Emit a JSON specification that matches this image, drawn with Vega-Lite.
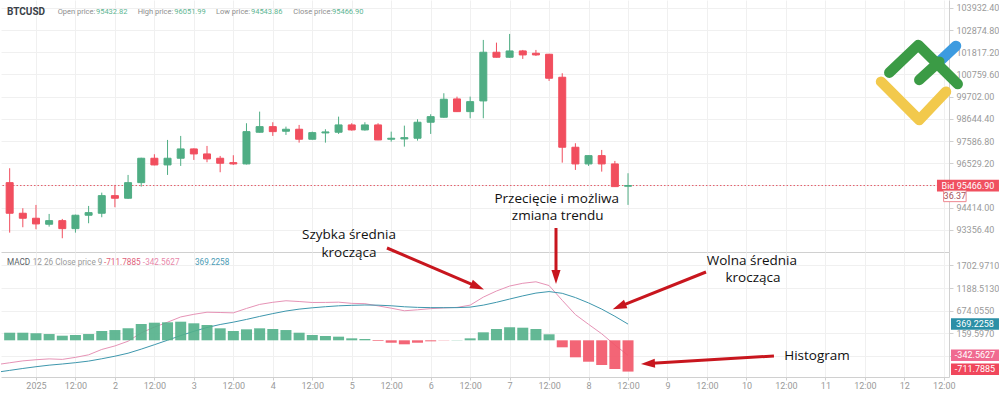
{
  "$schema": "https://vega.github.io/schema/vega-lite/v6.json",
  "padding": 0,
  "spacing": 0,
  "bounds": "flush",
  "background": "white",
  "config": {
    "view": {"stroke": null},
    "font": "Roboto",
    "scale": {"continuousPadding": 0},
    "axis": {"title": null, "gridColor": "#f0f0f0", "domainColor": "#d0d0d0", "tickColor": "#d0d0d0", "labelColor": "#9a9a9a", "labelFont": "Roboto", "labelFontSize": 9}
  },
  "resolve": {"scale": {"x": "independent", "y": "independent"}},
  "datasets": {
    "candles": [
      {"t":"2024-12-31T16:00:00Z","o":95604.6,"h":96290.9,"l":93221.6,"c":94146.2},
      {"t":"2024-12-31T20:00:00Z","o":94146.2,"h":94384.5,"l":93479.0,"c":93907.9},
      {"t":"2025-01-01T00:00:00Z","o":93907.9,"h":94541.8,"l":93383.7,"c":93636.3},
      {"t":"2025-01-01T04:00:00Z","o":93622.0,"h":94112.9,"l":93507.6,"c":93793.5},
      {"t":"2025-01-01T08:00:00Z","o":93793.5,"h":93874.6,"l":92954.7,"c":93412.3},
      {"t":"2025-01-01T12:00:00Z","o":93412.3,"h":94080.0,"l":93221.6,"c":94050.9},
      {"t":"2025-01-01T16:00:00Z","o":94050.9,"h":94494.1,"l":93669.6,"c":94174.8},
      {"t":"2025-01-01T20:00:00Z","o":94146.2,"h":95128.0,"l":93955.6,"c":94985.0},
      {"t":"2025-01-02T00:00:00Z","o":94985.0,"h":95495.0,"l":94432.2,"c":94861.2},
      {"t":"2025-01-02T04:00:00Z","o":94861.2,"h":95971.6,"l":94830.0,"c":95604.6},
      {"t":"2025-01-02T08:00:00Z","o":95604.6,"h":96790.0,"l":95414.0,"c":96767.5},
      {"t":"2025-01-02T12:00:00Z","o":96767.5,"h":96958.2,"l":96430.0,"c":96448.2},
      {"t":"2025-01-02T16:00:00Z","o":96448.2,"h":97639.7,"l":95971.6,"c":96767.5},
      {"t":"2025-01-02T20:00:00Z","o":96767.5,"h":97830.3,"l":96400.5,"c":97210.8},
      {"t":"2025-01-03T00:00:00Z","o":97210.8,"h":97234.6,"l":96686.5,"c":96972.5},
      {"t":"2025-01-03T04:00:00Z","o":96972.5,"h":97353.7,"l":96576.9,"c":96734.2},
      {"t":"2025-01-03T08:00:00Z","o":96767.5,"h":96877.1,"l":96100.3,"c":96529.2},
      {"t":"2025-01-03T12:00:00Z","o":96557.8,"h":96910.5,"l":96448.2,"c":96495.9},
      {"t":"2025-01-03T16:00:00Z","o":96495.9,"h":98435.6,"l":96470.0,"c":98035.3},
      {"t":"2025-01-03T20:00:00Z","o":98006.7,"h":98988.5,"l":97990.0,"c":98273.6},
      {"t":"2025-01-04T00:00:00Z","o":98273.6,"h":98483.3,"l":97830.3,"c":98035.3},
      {"t":"2025-01-04T04:00:00Z","o":98054.3,"h":98273.6,"l":97878.0,"c":98149.7},
      {"t":"2025-01-04T08:00:00Z","o":98149.7,"h":98354.6,"l":97511.0,"c":97673.1},
      {"t":"2025-01-04T12:00:00Z","o":97673.1,"h":98035.3,"l":97660.0,"c":97987.6},
      {"t":"2025-01-04T16:00:00Z","o":97973.3,"h":98149.7,"l":97511.0,"c":98021.0},
      {"t":"2025-01-04T20:00:00Z","o":98006.7,"h":98750.1,"l":97925.7,"c":98354.6},
      {"t":"2025-01-05T00:00:00Z","o":98354.6,"h":98435.6,"l":98082.9,"c":98116.3},
      {"t":"2025-01-05T04:00:00Z","o":98116.3,"h":98483.3,"l":98082.9,"c":98354.6},
      {"t":"2025-01-05T08:00:00Z","o":98354.6,"h":98435.6,"l":97630.0,"c":97639.7},
      {"t":"2025-01-05T12:00:00Z","o":97673.1,"h":98035.3,"l":97558.7,"c":97720.7},
      {"t":"2025-01-05T16:00:00Z","o":97687.4,"h":98321.2,"l":97320.4,"c":97749.3},
      {"t":"2025-01-05T20:00:00Z","o":97720.7,"h":98626.3,"l":97606.3,"c":98483.3},
      {"t":"2025-01-06T00:00:00Z","o":98483.3,"h":98864.6,"l":97925.7,"c":98750.1},
      {"t":"2025-01-06T04:00:00Z","o":98721.6,"h":99865.4,"l":98700.0,"c":99579.5},
      {"t":"2025-01-06T08:00:00Z","o":99593.8,"h":99703.4,"l":98970.0,"c":98988.5},
      {"t":"2025-01-06T12:00:00Z","o":98988.5,"h":99703.4,"l":98673.9,"c":99465.1},
      {"t":"2025-01-06T16:00:00Z","o":99498.4,"h":102405.7,"l":98673.9,"c":101819.5},
      {"t":"2025-01-06T20:00:00Z","o":101819.5,"h":102277.0,"l":101570.0,"c":101581.2},
      {"t":"2025-01-07T00:00:00Z","o":101581.2,"h":102691.7,"l":101560.0,"c":101881.4},
      {"t":"2025-01-07T04:00:00Z","o":101881.4,"h":101929.1,"l":101500.2,"c":101690.8},
      {"t":"2025-01-07T08:00:00Z","o":101771.8,"h":101929.1,"l":101643.1,"c":101690.8},
      {"t":"2025-01-07T12:00:00Z","o":101724.2,"h":101740.0,"l":100451.6,"c":100580.3},
      {"t":"2025-01-07T16:00:00Z","o":100628.0,"h":100818.6,"l":96557.8,"c":97291.8},
      {"t":"2025-01-07T20:00:00Z","o":97291.8,"h":97482.4,"l":96209.9,"c":96495.9},
      {"t":"2025-01-08T00:00:00Z","o":96495.9,"h":96900.0,"l":96400.5,"c":96891.4},
      {"t":"2025-01-08T04:00:00Z","o":96891.4,"h":97163.1,"l":96128.9,"c":96495.9},
      {"t":"2025-01-08T08:00:00Z","o":96495.9,"h":96638.8,"l":95400.0,"c":95414.0},
      {"t":"2025-01-08T12:00:00Z","o":95432.82,"h":96051.99,"l":94543.86,"c":95466.90}
    ],
    "macd": [
      {"t":"2024-12-31T12:00:00Z","m":-554,"s":-727.6,"h":null},
      {"t":"2024-12-31T16:00:00Z","m":-511.3,"s":-684.3,"h":173},
      {"t":"2024-12-31T20:00:00Z","m":-468.1,"s":-641.1,"h":173},
      {"t":"2025-01-01T00:00:00Z","m":-442.3,"s":-601.3,"h":159},
      {"t":"2025-01-01T04:00:00Z","m":-422.6,"s":-565.6,"h":143},
      {"t":"2025-01-01T08:00:00Z","m":-434.3,"s":-539.3,"h":105},
      {"t":"2025-01-01T12:00:00Z","m":-388.1,"s":-509.1,"h":121},
      {"t":"2025-01-01T16:00:00Z","m":-330.3,"s":-473.3,"h":143},
      {"t":"2025-01-01T20:00:00Z","m":-208.3,"s":-420.3,"h":212},
      {"t":"2025-01-02T00:00:00Z","m":-127.8,"s":-361.8,"h":234},
      {"t":"2025-01-02T04:00:00Z","m":-20.6,"s":-293.6,"h":273},
      {"t":"2025-01-02T08:00:00Z","m":170.2,"s":-200.8,"h":371},
      {"t":"2025-01-02T12:00:00Z","m":300.4,"s":-100.6,"h":401},
      {"t":"2025-01-02T16:00:00Z","m":411.9,"s":1.9,"h":410},
      {"t":"2025-01-02T20:00:00Z","m":531.9,"s":107.9,"h":424},
      {"t":"2025-01-03T00:00:00Z","m":591.7,"s":204.7,"h":387},
      {"t":"2025-01-03T04:00:00Z","m":639.7,"s":291.7,"h":348},
      {"t":"2025-01-03T08:00:00Z","m":632.9,"s":359.9,"h":273},
      {"t":"2025-01-03T12:00:00Z","m":624.9,"s":412.9,"h":212},
      {"t":"2025-01-03T16:00:00Z","m":725.4,"s":475.4,"h":250},
      {"t":"2025-01-03T20:00:00Z","m":816.7,"s":543.7,"h":273},
      {"t":"2025-01-04T00:00:00Z","m":864.9,"s":607.9,"h":257},
      {"t":"2025-01-04T04:00:00Z","m":900.4,"s":666.4,"h":234},
      {"t":"2025-01-04T08:00:00Z","m":882.7,"s":709.7,"h":173},
      {"t":"2025-01-04T12:00:00Z","m":860.9,"s":739.9,"h":121},
      {"t":"2025-01-04T16:00:00Z","m":862.4,"s":764.4,"h":98},
      {"t":"2025-01-04T20:00:00Z","m":868.2,"s":785.2,"h":83},
      {"t":"2025-01-05T00:00:00Z","m":841.4,"s":796.4,"h":45},
      {"t":"2025-01-05T04:00:00Z","m":833.9,"s":803.9,"h":30},
      {"t":"2025-01-05T08:00:00Z","m":783.9,"s":799.9,"h":-16},
      {"t":"2025-01-05T12:00:00Z","m":731.2,"s":786.2,"h":-55},
      {"t":"2025-01-05T16:00:00Z","m":672.4,"s":763.4,"h":-91},
      {"t":"2025-01-05T20:00:00Z","m":694.7,"s":749.7,"h":-55},
      {"t":"2025-01-06T00:00:00Z","m":720.9,"s":743.9,"h":-23},
      {"t":"2025-01-06T04:00:00Z","m":737.7,"s":742.7,"h":-5},
      {"t":"2025-01-06T08:00:00Z","m":748.9,"s":743.9,"h":5},
      {"t":"2025-01-06T12:00:00Z","m":800.2,"s":755.2,"h":45},
      {"t":"2025-01-06T16:00:00Z","m":982.7,"s":800.7,"h":182},
      {"t":"2025-01-06T20:00:00Z","m":1121.9,"s":864.9,"h":257},
      {"t":"2025-01-07T00:00:00Z","m":1234.9,"s":938.9,"h":296},
      {"t":"2025-01-07T04:00:00Z","m":1297.7,"s":1010.7,"h":287},
      {"t":"2025-01-07T08:00:00Z","m":1331.9,"s":1074.9,"h":257},
      {"t":"2025-01-07T12:00:00Z","m":1246.2,"s":1109.2,"h":137},
      {"t":"2025-01-07T16:00:00Z","m":910.4,"s":1069.4,"h":-159},
      {"t":"2025-01-07T20:00:00Z","m":585.7,"s":972.7,"h":-387},
      {"t":"2025-01-08T00:00:00Z","m":363.9,"s":850.9,"h":-487},
      {"t":"2025-01-08T04:00:00Z","m":148.4,"s":710.4,"h":-562},
      {"t":"2025-01-08T08:00:00Z","m":-105.8,"s":547.2,"h":-653},
      {"t":"2025-01-08T12:00:00Z","m":-342.5627,"s":369.2258,"h":-711.7885}
    ],
    "hdr": [
      {"t":"2024-12-31T15:11:00Z","text":"BTCUSD","k":"sym"},
      {"t":"2025-01-01T06:36:00Z","text":"Open price:","k":"lab"},
      {"t":"2025-01-01T18:14:00Z","text":"95432.82","k":"val"},
      {"t":"2025-01-02T06:55:00Z","text":"High price:","k":"lab"},
      {"t":"2025-01-02T18:03:00Z","text":"96051.99","k":"val"},
      {"t":"2025-01-03T06:44:00Z","text":"Low price:","k":"lab"},
      {"t":"2025-01-03T17:22:00Z","text":"94543.86","k":"val"},
      {"t":"2025-01-04T06:14:00Z","text":"Close price:","k":"lab"},
      {"t":"2025-01-04T18:00:00Z","text":"95466.90","k":"val"}
    ],
    "mhdr": [
      {"t":"2024-12-31T15:11:00Z","text":"MACD","k":"name"},
      {"t":"2024-12-31T23:00:00Z","text":"12 26 Close price 9","k":"lab"},
      {"t":"2025-01-01T20:40:00Z","text":"-711.7885","k":"hist"},
      {"t":"2025-01-02T08:30:00Z","text":"-342.5627","k":"macd"},
      {"t":"2025-01-03T00:20:00Z","text":"369.2258","k":"sig"}
    ],
    "notesP": [
      {"t":"2025-01-04T23:10:00Z","p":92898,"text":"Szybka średnia"},
      {"t":"2025-01-07T14:20:00Z","p":94638,"text":"Przecięcie i możliwa"},
      {"t":"2025-01-07T14:37:00Z","p":93812,"text":"zmiana trendu"}
    ],
    "notesM": [
      {"t":"2025-01-04T23:10:00Z","v":1885,"text":"krocząca"},
      {"t":"2025-01-10T01:38:00Z","v":1721,"text":"Wolna średnia"},
      {"t":"2025-01-10T01:59:00Z","v":1316,"text":"krocząca"},
      {"t":"2025-01-10T21:27:00Z","v":-448,"text":"Histogram"}
    ],
    "arrows": [
      {"id":"a1","t1":"2025-01-05T10:43:00Z","v1":2101,"t2":"2025-01-06T13:04:00Z","v2":1256},
      {"id":"a2","t1":"2025-01-07T14:06:00Z","v1":2556,"t2":"2025-01-07T14:06:00Z","v2":1536},
      {"id":"a3","t1":"2025-01-09T11:42:00Z","v1":1555,"t2":"2025-01-08T10:30:00Z","v2":801},
      {"id":"a4","t1":"2025-01-10T08:22:00Z","v1":-357,"t2":"2025-01-08T19:20:00Z","v2":-524}
    ],
    "logo": [
      {"seg":"blue","t":"2025-01-12T10:38:00Z","p":101371.5},
      {"seg":"blue","t":"2025-01-12T15:43:00Z","p":102119.7},
      {"seg":"yellow","t":"2025-01-11T16:55:00Z","p":100418.3},
      {"seg":"yellow","t":"2025-01-12T04:33:00Z","p":98592.9},
      {"seg":"yellow","t":"2025-01-12T12:40:00Z","p":99941.7},
      {"seg":"green","t":"2025-01-11T19:26:00Z","p":100847.2},
      {"seg":"green","t":"2025-01-12T04:15:00Z","p":102167.4},
      {"seg":"green","t":"2025-01-12T16:14:00Z","p":100308.7},
      {"seg":"green2","t":"2025-01-12T04:33:00Z","p":100499.3},
      {"seg":"green2","t":"2025-01-12T10:38:00Z","p":101371.5}
    ],
    "tagsP": [
      {"t":"2025-01-12T19:21:00Z","p":95466.9,"text":"Bid 95466.90","kind":"bid"},
      {"t":"2025-01-12T15:22:00Z","p":94961,"text":"36.37","kind":"spread"}
    ],
    "tagsM": [
      {"t":"2025-01-12T21:29:00Z","v":369.2258,"text":"369.2258","kind":"sig"},
      {"t":"2025-01-12T21:29:00Z","v":-342.5627,"text":"-342.5627","kind":"macd"},
      {"t":"2025-01-12T21:29:00Z","v":-660,"text":"-711.7885","kind":"hist"}
    ]
  },
  "vconcat": [
    {
      "width": 948,
      "height": 252,
      "layer": [
        {
          "data": {"name": "candles"},
          "mark": {"type": "rule", "strokeWidth": 1},
          "encoding": {
            "x": {"field": "t", "type": "temporal", "scale": {"type": "utc", "domain": [1735651320000, 1736688900000], "padding": 0},
              "axis": {"labels": false, "ticks": false, "domain": true, "grid": true, "title": null}},
            "y": {"field": "l", "type": "quantitative", "scale": {"domain": [92298.8, 104309], "nice": false, "zero": false},
              "axis": {"orient": "right", "values": [93356.4, 94414.0, 95471.6, 96529.2, 97586.8, 98644.4, 99702.0, 100759.6, 101817.2, 102874.8, 103932.4], "tickCount": 50, "labelExpr": "datum.value > 95000 && datum.value < 96000 ? '' : format(datum.value, '.2f')", "tickSize": 4, "labelPadding": 3, "grid": true, "title": null, "labelOverlap": false}},
            "y2": {"field": "h"},
            "color": {"condition": {"test": "datum.c < datum.o", "value": "#f14e5e"}, "value": "#4fad84"}
          }
        },
        {
          "data": {"values": [{}]},
          "mark": {"type": "rule", "strokeDash": [1.5, 2], "color": "#e4606d", "strokeWidth": 1},
          "encoding": {"y": {"datum": 95466.9, "type": "quantitative", "scale": {"domain": [92298.8, 104309], "nice": false, "zero": false}}}
        },
        {
          "data": {"name": "candles"},
          "mark": {"type": "bar", "size": 7, "strokeWidth": 1},
          "encoding": {
            "x": {"field": "t", "type": "temporal", "scale": {"type": "utc", "domain": [1735651320000, 1736688900000], "padding": 0}},
            "y": {"field": "o", "type": "quantitative", "scale": {"domain": [92298.8, 104309], "nice": false, "zero": false}},
            "y2": {"field": "c"},
            "color": {"condition": {"test": "datum.c < datum.o", "value": "#f14e5e"}, "value": "#4fad84"},
            "stroke": {"condition": {"test": "datum.c < datum.o", "value": "#f14e5e"}, "value": "#4fad84"}
          }
        },
        {
          "data": {"name": "hdr"},
          "transform": [{"filter": "datum.k == 'sym'"}],
          "mark": {"type": "text", "align": "left", "baseline": "middle", "font": "Roboto", "fontSize": 10, "fontWeight": "bold", "color": "#3b4148"},
          "encoding": {
            "x": {"field": "t", "type": "temporal", "scale": {"type": "utc", "domain": [1735651320000, 1736688900000], "padding": 0}},
            "y": {"datum": 103726, "type": "quantitative", "scale": {"domain": [92298.8, 104309], "nice": false, "zero": false}},
            "text": {"field": "text"}
          }
        },
        {
          "data": {"name": "hdr"},
          "transform": [{"filter": "datum.k != 'sym'"}],
          "mark": {"type": "text", "align": "left", "baseline": "middle", "font": "Roboto", "fontSize": 7.5},
          "encoding": {
            "x": {"field": "t", "type": "temporal", "scale": {"type": "utc", "domain": [1735651320000, 1736688900000], "padding": 0}},
            "y": {"datum": 103726, "type": "quantitative", "scale": {"domain": [92298.8, 104309], "nice": false, "zero": false}},
            "text": {"field": "text"},
            "color": {"condition": {"test": "datum.k == 'val'", "value": "#5db592"}, "value": "#8d8d8d"}
          }
        },
        {
          "data": {"name": "notesP"},
          "mark": {"type": "text", "align": "center", "baseline": "alphabetic", "font": "Open Sans", "fontSize": 13.5, "color": "#111111"},
          "encoding": {
            "x": {"field": "t", "type": "temporal", "scale": {"type": "utc", "domain": [1735651320000, 1736688900000], "padding": 0}},
            "y": {"field": "p", "type": "quantitative", "scale": {"domain": [92298.8, 104309], "nice": false, "zero": false}},
            "text": {"field": "text"}
          }
        },
        {
          "data": {"name": "logo"},
          "mark": {"type": "line", "strokeWidth": 10.5, "strokeCap": "round", "strokeJoin": "round"},
          "encoding": {
            "x": {"field": "t", "type": "temporal", "scale": {"type": "utc", "domain": [1735651320000, 1736688900000], "padding": 0}},
            "y": {"field": "p", "type": "quantitative", "scale": {"domain": [92298.8, 104309], "nice": false, "zero": false}},
            "color": {"field": "seg", "type": "nominal", "scale": {"domain": ["blue", "yellow", "green", "green2"], "range": ["#3d9be0", "#f2c94c", "#3b9b45", "#3b9b45"]}, "legend": null}
          }
        },
        {
          "data": {"name": "tagsP"},
          "transform": [{"filter": "datum.kind == 'bid'"}],
          "mark": {"type": "point", "shape": "M-1,-0.19L1,-0.19L1,0.19L-1,0.19Z", "size": 3844, "filled": true, "color": "#f0505f", "opacity": 1, "strokeWidth": 0},
          "encoding": {
            "x": {"field": "t", "type": "temporal", "scale": {"type": "utc", "domain": [1735651320000, 1736688900000], "padding": 0}},
            "y": {"field": "p", "type": "quantitative", "scale": {"domain": [92298.8, 104309], "nice": false, "zero": false}}
          }
        },
        {
          "data": {"name": "tagsP"},
          "transform": [{"filter": "datum.kind == 'spread'"}],
          "mark": {"type": "point", "shape": "M-1,-0.49L1,-0.49L1,0.49L-1,0.49Z", "size": 506, "filled": true, "fill": "#ffffff", "stroke": "#ee8890", "strokeWidth": 1, "opacity": 1},
          "encoding": {
            "x": {"field": "t", "type": "temporal", "scale": {"type": "utc", "domain": [1735651320000, 1736688900000], "padding": 0}},
            "y": {"field": "p", "type": "quantitative", "scale": {"domain": [92298.8, 104309], "nice": false, "zero": false}}
          }
        },
        {
          "data": {"name": "tagsP"},
          "mark": {"type": "text", "align": "center", "baseline": "middle", "font": "Roboto", "fontSize": 9},
          "encoding": {
            "x": {"field": "t", "type": "temporal", "scale": {"type": "utc", "domain": [1735651320000, 1736688900000], "padding": 0}},
            "y": {"field": "p", "type": "quantitative", "scale": {"domain": [92298.8, 104309], "nice": false, "zero": false}},
            "text": {"field": "text"},
            "color": {"condition": {"test": "datum.kind == 'spread'", "value": "#a5525c"}, "value": "#ffffff"}
          }
        }
      ]
    },
    {
      "width": 948,
      "height": 125,
      "layer": [
        {
          "data": {"name": "macd"},
          "mark": {"type": "line", "color": "#e693b6", "strokeWidth": 1, "clip": true},
          "encoding": {
            "x": {"field": "t", "type": "temporal", "scale": {"type": "utc", "domain": [1735651320000, 1736688900000], "padding": 0},
              "axis": {"labelExpr": "utchours(datum.value) == 12 ? '12:00' : (utcdate(datum.value) == 1 && utcmonth(datum.value) == 0 ? '2025' : '' + utcdate(datum.value))", "labelFlush": false, "labelOverlap": false, "tickSize": 3, "labelPadding": 1, "grid": true, "title": null, "domain": true}},
            "y": {"field": "m", "type": "quantitative", "scale": {"domain": [-835, 2010], "nice": false, "zero": false},
              "axis": {"orient": "right", "values": [-354.861, 159.597, 674.055, 1188.513, 1702.971], "tickCount": 50, "labelExpr": "datum.value < 0 ? '' : format(datum.value, '.4f')", "tickSize": 4, "labelPadding": 3, "grid": true, "title": null, "labelOverlap": false}}
          }
        },
        {
          "data": {"name": "macd"},
          "mark": {"type": "line", "color": "#3e97ad", "strokeWidth": 1, "clip": true},
          "encoding": {
            "x": {"field": "t", "type": "temporal", "scale": {"type": "utc", "domain": [1735651320000, 1736688900000], "padding": 0}},
            "y": {"field": "s", "type": "quantitative", "scale": {"domain": [-835, 2010], "nice": false, "zero": false}}
          }
        },
        {
          "data": {"name": "macd"},
          "transform": [{"filter": "isValid(datum.h)"}],
          "mark": {"type": "bar", "size": 11, "opacity": 0.9},
          "encoding": {
            "x": {"field": "t", "type": "temporal", "scale": {"type": "utc", "domain": [1735651320000, 1736688900000], "padding": 0}},
            "y": {"field": "h", "type": "quantitative", "scale": {"domain": [-835, 2010], "nice": false, "zero": false}},
            "y2": {"datum": 0},
            "color": {"condition": {"test": "datum.h < 0", "value": "#f25467"}, "value": "#52b089"}
          }
        },
        {
          "data": {"name": "mhdr"},
          "mark": {"type": "text", "align": "left", "baseline": "middle", "font": "Roboto", "fontSize": 8.2},
          "encoding": {
            "x": {"field": "t", "type": "temporal", "scale": {"type": "utc", "domain": [1735651320000, 1736688900000], "padding": 0}},
            "y": {"datum": 1766, "type": "quantitative", "scale": {"domain": [-835, 2010], "nice": false, "zero": false}},
            "text": {"field": "text"},
            "color": {"condition": [
              {"test": "datum.k == 'name'", "value": "#5a5f66"},
              {"test": "datum.k == 'lab'", "value": "#9a9a9a"},
              {"test": "datum.k == 'hist'", "value": "#e0607a"},
              {"test": "datum.k == 'macd'", "value": "#e888aa"}
            ], "value": "#4a9bb5"}
          }
        },
        {
          "data": {"name": "notesM"},
          "mark": {"type": "text", "align": "center", "baseline": "alphabetic", "font": "Open Sans", "fontSize": 13.5, "color": "#111111"},
          "encoding": {
            "x": {"field": "t", "type": "temporal", "scale": {"type": "utc", "domain": [1735651320000, 1736688900000], "padding": 0}},
            "y": {"field": "v", "type": "quantitative", "scale": {"domain": [-835, 2010], "nice": false, "zero": false}},
            "text": {"field": "text"}
          }
        },
        {
          "data": {"name": "arrows"},
          "mark": {"type": "rule", "strokeWidth": 3, "color": "#c8161e"},
          "encoding": {
            "x": {"field": "t1", "type": "temporal", "scale": {"type": "utc", "domain": [1735651320000, 1736688900000], "padding": 0}},
            "x2": {"field": "t2"},
            "y": {"field": "v1", "type": "quantitative", "scale": {"domain": [-835, 2010], "nice": false, "zero": false}},
            "y2": {"field": "v2"}
          }
        },
        {
          "data": {"name": "arrows"},
          "mark": {"type": "point", "shape": "M0,-1.6L0.65,0.4L-0.65,0.4Z", "size": 196, "filled": true, "color": "#c8161e", "opacity": 1, "strokeWidth": 0},
          "encoding": {
            "x": {"field": "t2", "type": "temporal", "scale": {"type": "utc", "domain": [1735651320000, 1736688900000], "padding": 0}},
            "y": {"field": "v2", "type": "quantitative", "scale": {"domain": [-835, 2010], "nice": false, "zero": false}},
            "angle": {"condition": [
              {"test": "datum.id == 'a1'", "value": 113},
              {"test": "datum.id == 'a2'", "value": 180},
              {"test": "datum.id == 'a3'", "value": 248}
            ], "value": 267}
          }
        },
        {
          "data": {"name": "tagsM"},
          "mark": {"type": "point", "shape": "M-1,-0.24L1,-0.24L1,0.24L-1,0.24Z", "size": 2304, "filled": true, "opacity": 1, "strokeWidth": 0},
          "encoding": {
            "x": {"field": "t", "type": "temporal", "scale": {"type": "utc", "domain": [1735651320000, 1736688900000], "padding": 0}},
            "y": {"field": "v", "type": "quantitative", "scale": {"domain": [-835, 2010], "nice": false, "zero": false}},
            "color": {"condition": [
              {"test": "datum.kind == 'sig'", "value": "#2b8fa6"},
              {"test": "datum.kind == 'macd'", "value": "#f06a90"}
            ], "value": "#f0475c"}
          }
        },
        {
          "data": {"name": "tagsM"},
          "mark": {"type": "text", "align": "center", "baseline": "middle", "font": "Roboto", "fontSize": 9, "color": "#ffffff"},
          "encoding": {
            "x": {"field": "t", "type": "temporal", "scale": {"type": "utc", "domain": [1735651320000, 1736688900000], "padding": 0}},
            "y": {"field": "v", "type": "quantitative", "scale": {"domain": [-835, 2010], "nice": false, "zero": false}},
            "text": {"field": "text"}
          }
        }
      ]
    }
  ]
}
